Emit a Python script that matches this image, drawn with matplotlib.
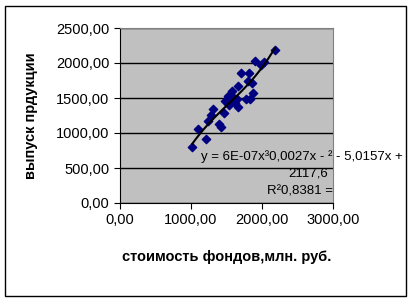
import matplotlib
matplotlib.use("Agg")
from matplotlib import pyplot as plt
from matplotlib.ticker import FuncFormatter, MultipleLocator
import numpy as np

plt.rcParams['font.family'] = ['Liberation Sans', 'DejaVu Sans']

# fixed assets cost (x) vs output (y)
fonds = np.array([2181, 1906, 2030, 1991, 1707, 1817, 1802, 1863, 1669, 1575,
                  1878, 1518, 1603, 1650, 1778, 1835, 1508, 1565, 1622, 1660,
                  1309, 1461, 1280, 1233, 1390, 1422, 1105, 1209, 1020, 1540,
                  1480])
vypusk = np.array([2186, 2033, 2019, 1971, 1861, 1853, 1747, 1719, 1671, 1604,
                   1576, 1529, 1496, 1481, 1490, 1490, 1447, 1447, 1424, 1376,
                   1339, 1281, 1253, 1176, 1129, 1090, 1061, 919, 804, 1400,
                   1460])

eq_text = "y = 6E-07x³0,0027x - ² - 5,0157x +"
eq_text2 = "2117,6"
r2_text = "R²0,8381 ="

W, H = 412, 301
fig = plt.figure(figsize=(W / 100, H / 100), dpi=100)
ax = fig.add_axes([120 / W, 1 - 203 / H, (333 - 120) / W, (203 - 28) / H])
ax.set_facecolor('#C0C0C0')

# frame around the whole chart
fig.patches.append(plt.Rectangle((5 / W, 5 / H), (406 - 5) / W, (295 - 5) / H,
                                 transform=fig.transFigure, fill=False,
                                 edgecolor='black', linewidth=1))

ax.scatter(fonds, vypusk, marker='D', s=18, color='#000080', zorder=3)

coef = np.polyfit(fonds, vypusk, 3)
xs = np.linspace(fonds.min(), fonds.max(), 100)
ax.plot(xs, np.polyval(coef, xs), color='black', linewidth=1.5, zorder=4)

ax.set_xlim(0, 3000)
ax.set_ylim(0, 2500)
ax.xaxis.set_major_locator(MultipleLocator(1000))
ax.yaxis.set_major_locator(MultipleLocator(500))
fmt = FuncFormatter(lambda v, p: f"{v:.2f}".replace('.', ','))
ax.xaxis.set_major_formatter(fmt)
ax.yaxis.set_major_formatter(fmt)
ax.grid(axis='y', color='black', linewidth=1)
ax.set_axisbelow(True)
ax.tick_params(direction='out', length=4, labelsize=10.5, colors='black')
for s in ['top', 'right']:
    ax.spines[s].set_color('#808080')
for s in ['left', 'bottom']:
    ax.spines[s].set_color('black')

ax.set_xlabel("стоимость фондов,млн. руб.", fontsize=10.5, fontweight='bold', labelpad=16)
ax.set_ylabel("выпуск прдукции", fontsize=10.5, fontweight='bold', labelpad=13)

fig.text(201 / W, 1 - 157 / H, eq_text, fontsize=9.5, va='center', ha='left')
fig.text(328 / W, 1 - 173 / H, eq_text2, fontsize=9.5, va='center', ha='right')
fig.text(333 / W, 1 - 192 / H, r2_text, fontsize=9.5, va='center', ha='right')

fig.savefig("out.png", dpi=100)
